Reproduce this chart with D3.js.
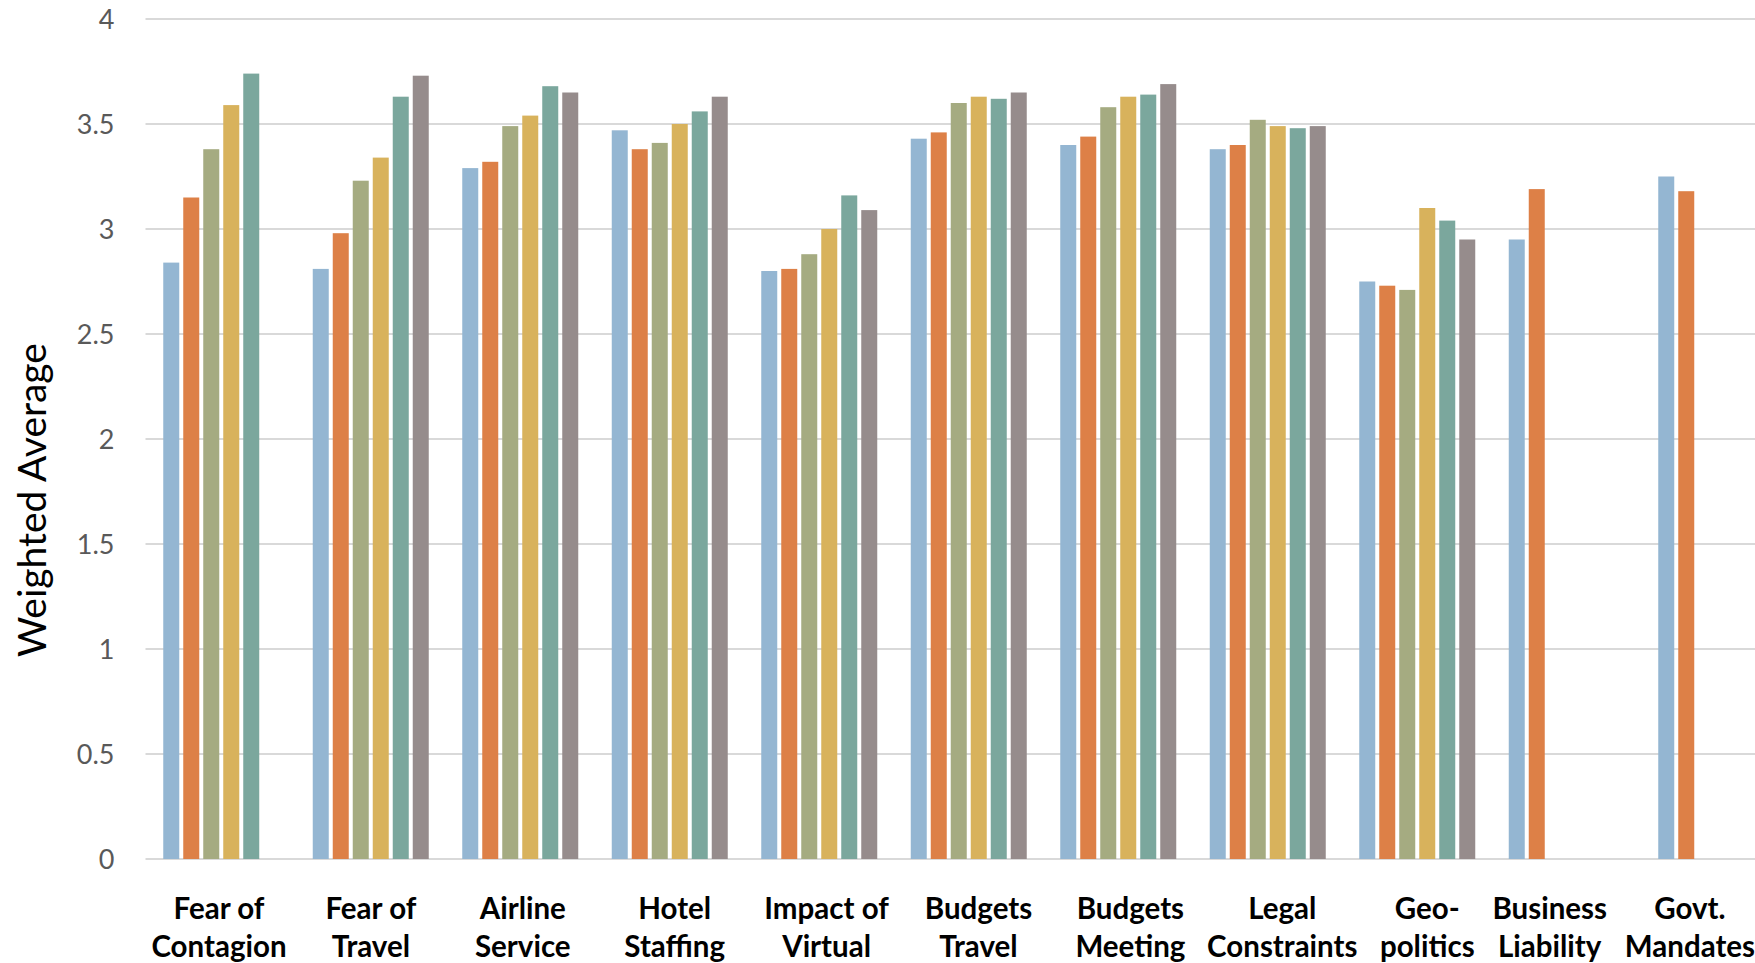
<!DOCTYPE html>
<html>
<head>
<meta charset="utf-8">
<script src="https://cdn.jsdelivr.net/npm/d3@7"></script>
<style>
  html, body { margin: 0; padding: 0; background: #fff; overflow: hidden; }
  svg { display: block; }
</style>
</head>
<body>
<div id="chart"></div>
<script>
// Categories (two-line labels as they wrap under the axis)
const categories = [
  "Fear of Contagion", "Fear of Travel", "Airline Service", "Hotel Staffing",
  "Impact of Virtual", "Budgets Travel", "Budgets Meeting", "Legal Constraints",
  "Geo- politics", "Business Liability", "Govt. Mandates"
];
const categoryLines = [
  ["Fear of", "Contagion"], ["Fear of", "Travel"], ["Airline", "Service"], ["Hotel", "Staffing"],
  ["Impact of", "Virtual"], ["Budgets", "Travel"], ["Budgets", "Meeting"], ["Legal", "Constraints"],
  ["Geo-", "politics"], ["Business", "Liability"], ["Govt.", "Mandates"]
];

// Series values (null = no bar)
const series1 = [2.84, 2.81, 3.29, 3.47, 2.80, 3.43, 3.40, 3.38, 2.75, 2.95, 3.25];
const series2 = [3.15, 2.98, 3.32, 3.38, 2.81, 3.46, 3.44, 3.40, 2.73, 3.19, 3.18];
const series3 = [3.38, 3.23, 3.49, 3.41, 2.88, 3.60, 3.58, 3.52, 2.71, null, null];
const series4 = [3.59, 3.34, 3.54, 3.50, 3.00, 3.63, 3.63, 3.49, 3.10, null, null];
const series5 = [3.74, 3.63, 3.68, 3.56, 3.16, 3.62, 3.64, 3.48, 3.04, null, null];
const series6 = [null, 3.73, 3.65, 3.63, 3.09, 3.65, 3.69, 3.49, 2.95, null, null];

const seriesNames = ["S1", "S2", "S3", "S4", "S5", "S6"];
const seriesValues = [series1, series2, series3, series4, series5, series6];
const seriesColors = ["#94B6D2", "#DD8047", "#A5AB81", "#D8B25C", "#7BA79D", "#968C8C"];

const yTicks = [0, 0.5, 1, 1.5, 2, 2.5, 3, 3.5, 4];

// Layout
const width = 1755;
const height = 963;
const plot = { left: 145.5, right: 1755, top: 19, bottom: 859 };
const font = "Lato, 'Open Sans', sans-serif";

const svg = d3.select("#chart")
  .append("svg")
  .attr("width", width)
  .attr("height", height);

// Scales
const y = d3.scaleLinear()
  .domain([0, 4])
  .range([plot.bottom, plot.top]);

// chart continues past the right edge of the picture, so the band range runs beyond it
const x0 = d3.scaleBand()
  .domain(categories)
  .range([146.5, 146.5 + 149.5 * categories.length]);

const groupWidth = 120;
const x1 = d3.scaleBand()
  .domain(seriesNames)
  .range([(x0.bandwidth() - groupWidth) / 2, (x0.bandwidth() + groupWidth) / 2]);

const barGap = 4;

// Gridlines
svg.append("g")
  .selectAll("line")
  .data(yTicks)
  .join("line")
  .attr("x1", plot.left)
  .attr("x2", plot.right)
  .attr("y1", d => y(d))
  .attr("y2", d => y(d))
  .attr("stroke", "#d9d9d9")
  .attr("stroke-width", 2);

// Y axis labels
const yAxis = svg.append("g")
  .attr("transform", `translate(${plot.left - 31},0)`)
  .call(d3.axisLeft(y).tickValues(yTicks).tickSize(0).tickPadding(0).tickFormat(d3.format("")));
yAxis.select(".domain").remove();
yAxis.selectAll(".tick text")
  .attr("font-family", font)
  .attr("font-size", 27)
  .attr("fill", "#595959")
  .attr("dy", "0.35em");

// Y axis title
svg.append("text")
  .attr("transform", `translate(46,${(plot.top + plot.bottom) / 2 + 61}) rotate(-90)`)
  .attr("text-anchor", "middle")
  .attr("font-family", font)
  .attr("font-size", 39)
  .attr("fill", "#000")
  .text("Weighted Average");

// Bars
const rows = categories.map((c, i) => ({
  category: c,
  values: seriesNames.map((s, j) => ({ key: s, value: seriesValues[j][i], color: seriesColors[j] }))
}));

const groups = svg.append("g")
  .selectAll("g")
  .data(rows)
  .join("g")
  .attr("transform", d => `translate(${x0(d.category)},0)`);

groups.selectAll("rect")
  .data(d => d.values.filter(v => v.value != null))
  .join("rect")
  .attr("x", d => x1(d.key) + barGap / 2)
  .attr("width", x1.bandwidth() - barGap)
  .attr("y", d => y(d.value))
  .attr("height", d => y(0) - y(d.value))
  .attr("fill", d => d.color);

// Category labels: spread a bit wider than the bars, then pushed left so they fit the edge
const labelX = d3.scaleLinear()
  .domain([x0(categories[0]) + x0.bandwidth() / 2, x0(categories[1]) + x0.bandwidth() / 2])
  .range([219, 219 + 151.9]);

const labels = svg.append("g")
  .selectAll("text")
  .data(categories)
  .join("text")
  .attr("y", 919)
  .attr("text-anchor", "middle")
  .attr("font-family", font)
  .attr("font-weight", "bold")
  .attr("font-size", 29.5)
  .attr("fill", "#000");

labels.selectAll("tspan")
  .data((d, i) => categoryLines[i])
  .join("tspan")
  .attr("dy", (d, i) => i === 0 ? 0 : 38)
  .text(d => d);

const labelGap = 18;
const info = labels.nodes().map((node, i) => ({
  node,
  cx: labelX(x0(categories[i]) + x0.bandwidth() / 2),
  half: d3.max(Array.from(node.querySelectorAll("tspan")), t => t.getComputedTextLength()) / 2
}));
let limit = width;
for (let i = info.length - 1; i >= 0; i--) {
  const d = info[i];
  if (d.cx + d.half > limit) d.cx = limit - d.half;
  limit = d.cx - d.half - labelGap;
}
info.forEach(d => {
  d3.select(d.node).attr("x", d.cx).selectAll("tspan").attr("x", d.cx);
});
</script>
</body>
</html>
